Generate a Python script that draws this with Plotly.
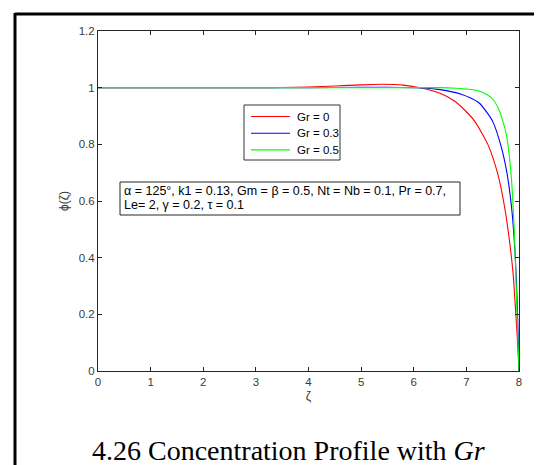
import plotly.graph_objects as go

# ---- data ----
zeta_gr0 = [0, 1, 2, 3, 3.5, 4.0, 4.5, 5.0, 5.4, 5.8, 6.14, 6.5, 6.78, 7.0, 7.16, 7.41, 7.60, 7.73, 7.82, 7.89, 7.94, 7.97, 8.0]
phi_gr0 = [1, 1, 1, 1, 1.0005, 1.002, 1.006, 1.010, 1.012, 1.009, 0.999, 0.980, 0.952, 0.915, 0.881, 0.799, 0.693, 0.575, 0.458, 0.340, 0.200, 0.110, 0.0]

zeta_gr03 = [0, 1, 2, 3, 4, 5, 5.5, 6.0, 6.2, 6.5, 6.9, 7.1, 7.25, 7.4, 7.5, 7.66, 7.77, 7.86, 7.92, 7.96, 7.985, 8.0]
phi_gr03 = [1, 1, 1, 1, 1.0, 1.001, 1.001, 1.0, 0.999, 0.993, 0.977, 0.962, 0.945, 0.910, 0.881, 0.793, 0.700, 0.575, 0.434, 0.270, 0.120, 0.0]

zeta_gr05 = [0, 1, 2, 3, 4, 5, 6, 6.5, 6.8, 7.0, 7.22, 7.41, 7.5, 7.6, 7.68, 7.76, 7.85, 7.905, 7.94, 7.97, 8.0]
phi_gr05 = [1, 1, 1, 1, 1, 1, 1, 1.0, 0.998, 0.995, 0.990, 0.973, 0.960, 0.930, 0.890, 0.834, 0.693, 0.516, 0.340, 0.163, 0.0]

series_names = ["Gr = 0", "Gr = 0.3", "Gr = 0.5"]
series_colors = ["#ff0000", "#0000ff", "#00ff00"]
x_ticks = [0, 1, 2, 3, 4, 5, 6, 7, 8]
y_ticks = [0, 0.2, 0.4, 0.6, 0.8, 1.0, 1.2]
y_tick_labels = ["0", "0.2", "0.4", "0.6", "0.8", "1", "1.2"]
param_line1 = "α = 125°, k1 = 0.13, Gm = β = 0.5, Nt = Nb = 0.1, Pr = 0.7,"
param_line2 = "Le= 2, γ = 0.2, τ = 0.1"
caption = "4.26 Concentration Profile with <i>Gr</i>"

# ---- figure ----
W, H = 542, 465
L, R, T, B = 90, 31, 23, 102
pw, ph = W - L - R, H - T - B
SANS = "Liberation Sans, Arial, sans-serif"


def px(xp):
    return (xp - L) / pw


def py(yp):
    return (H - B - yp) / ph


fig = go.Figure()
for zx, zy, name, color in zip([zeta_gr0, zeta_gr03, zeta_gr05],
                               [phi_gr0, phi_gr03, phi_gr05],
                               series_names, series_colors):
    fig.add_trace(go.Scatter(x=zx, y=zy, mode="lines", name=name, showlegend=False,
                             line=dict(color=color, width=1.1, shape="spline", smoothing=0.6)))

axis_common = dict(showline=True, linecolor="#262626", linewidth=1, mirror="ticks",
                   ticks="inside", ticklen=4, tickcolor="#262626", tickwidth=1,
                   showgrid=False, zeroline=False,
                   tickfont=dict(family=SANS, size=11.5, color="#3a3a3a"))

fig.update_xaxes(range=[0, 8], tickvals=x_ticks,
                 title=dict(text="ζ", standoff=4, font=dict(family=SANS, size=12, color="#3a3a3a")),
                 **axis_common)
fig.update_yaxes(range=[0, 1.2], tickvals=y_ticks, ticktext=y_tick_labels,
                 title=dict(text="ϕ(ζ)", standoff=7, font=dict(family=SANS, size=12, color="#3a3a3a")),
                 **axis_common)

fig.update_layout(
    width=W, height=H,
    margin=dict(l=L, r=R, t=T, b=B, pad=0),
    paper_bgcolor="white", plot_bgcolor="white",
    showlegend=False,
)

# legend box (drawn by hand to match the compact MATLAB legend)
fig.add_shape(type="rect", xref="paper", yref="paper",
              x0=px(236), x1=px(332), y0=py(152), y1=py(97),
              line=dict(color="#333333", width=1), fillcolor="white", layer="above")
for i, (name, color) in enumerate(zip(series_names, series_colors)):
    yy = 108.5 + i * 16.7
    fig.add_shape(type="line", xref="paper", yref="paper", x0=px(243), x1=px(282), y0=py(yy), y1=py(yy),
                  line=dict(color=color, width=1.1), layer="above")
    fig.add_annotation(xref="paper", yref="paper", x=px(287), y=py(yy), xanchor="left", yanchor="middle",
                       text=name, showarrow=False, font=dict(family=SANS, size=11.5, color="#000000"))

# parameter box
fig.add_shape(type="rect", xref="paper", yref="paper",
              x0=px(112), x1=px(452), y0=py(207), y1=py(174),
              line=dict(color="#262626", width=1), fillcolor="white", layer="above")
fig.add_annotation(xref="paper", yref="paper", x=px(114), y=py(182.5), xanchor="left", yanchor="middle",
                   text=param_line1, showarrow=False, font=dict(family=SANS, size=12.5, color="#000000"))
fig.add_annotation(xref="paper", yref="paper", x=px(114), y=py(196.5), xanchor="left", yanchor="middle",
                   text=param_line2, showarrow=False, font=dict(family=SANS, size=12.5, color="#000000"))

# cell border (top and left)
fig.add_shape(type="line", xref="paper", yref="paper", x0=px(7), x1=px(545), y0=py(6), y1=py(6),
              line=dict(color="black", width=3))
fig.add_shape(type="line", xref="paper", yref="paper", x0=px(7), x1=px(7), y0=py(5), y1=py(470),
              line=dict(color="black", width=3))

# caption
fig.add_annotation(xref="paper", yref="paper", x=px(280), y=py(442), xanchor="center", yanchor="middle",
                   text=caption, showarrow=False,
                   font=dict(family="Liberation Serif, Times New Roman, serif", size=28, color="#000000"))

fig.write_html("out.html")
